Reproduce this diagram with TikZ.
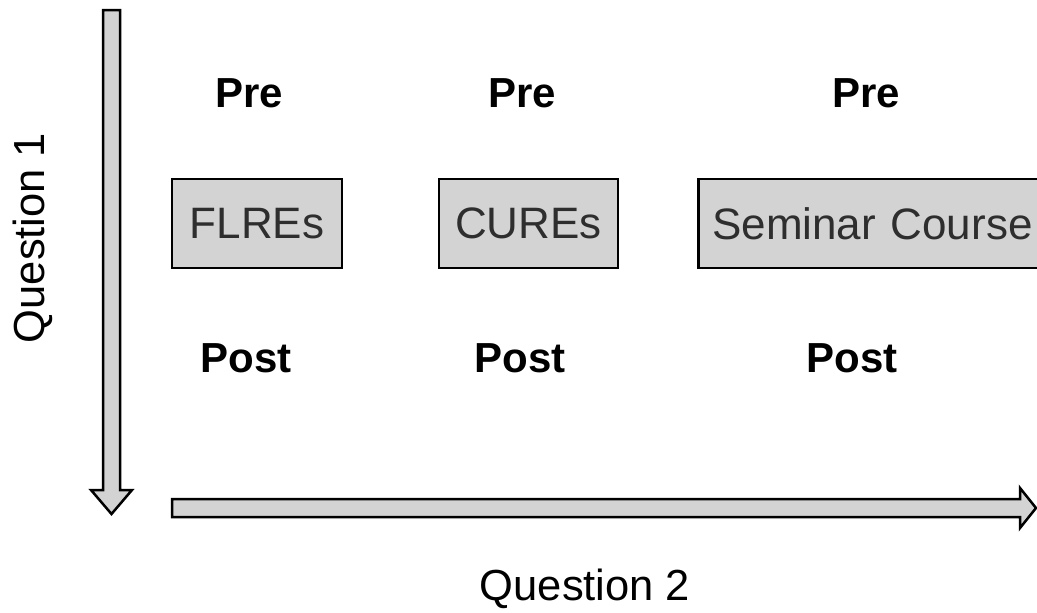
\documentclass[tikz,border=0pt]{standalone}
\usepackage{fontspec}
\setmainfont{Liberation Sans}
\definecolor{boxgray}{HTML}{D3D3D3}
\definecolor{txtgray}{HTML}{2E2E2E}
\begin{document}
\begin{tikzpicture}[x=1pt,y=-1pt,
  box/.style={draw=black,line width=2.5pt,fill=boxgray,inner sep=0pt,minimum height=89pt,text=txtgray,font=\fontsize{44}{48}\selectfont},
  lbl/.style={font=\fontsize{42}{46}\selectfont\bfseries},
  qlbl/.style={font=\fontsize{43.5}{48}\selectfont,anchor=base},
  arr/.style={draw=black,line width=2.5pt,fill=boxgray,line join=miter}]
\useasboundingbox (0,0) rectangle (1037,613);
\draw[arr] (103,10) -- (120,10) -- (120,490) -- (132,490) -- (111.5,514) -- (91,490) -- (103,490) -- cycle;
\draw[arr] (172,499) -- (1020,499) -- (1020,488) -- (1036,508) -- (1020,528) -- (1020,517) -- (172,517) -- cycle;
\node[box,minimum width=170pt] (flres) at (257,223.5) {FLREs};
\node[box,minimum width=179pt] (cures) at (528.5,223.5) {CUREs};
\node[box,anchor=west,inner xsep=14pt,text width=330pt,align=left] (sem) at (697,223.5) {Seminar Course};
\node[lbl] (pre1) at (249,93) {Pre};
\node[lbl] (pre2) at (522,93) {Pre};
\node[lbl] (pre3) at (866,93) {Pre};
\node[lbl] (post1) at (246,358) {Post};
\node[lbl] (post2) at (520,358) {Post};
\node[lbl] (post3) at (852,358) {Post};
\node[qlbl,rotate=90] (q1) at (44,238) {Question 1};
\node[qlbl] (q2) at (585,600) {Question 2};
\end{tikzpicture}
\end{document}
